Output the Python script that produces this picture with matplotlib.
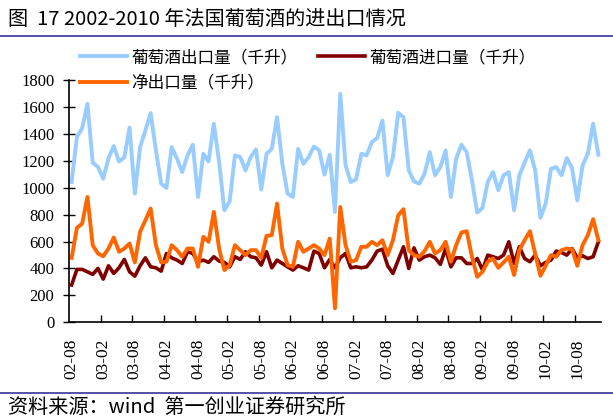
import numpy as np
import matplotlib
matplotlib.use('Agg')
import matplotlib.pyplot as plt
from matplotlib.lines import Line2D

plt.rcParams['font.family'] = ['Noto Sans CJK SC', 'DejaVu Sans']

# Monthly data, 2002-08 .. 2010-12 (千升)
exports = [1042, 1376, 1442, 1623, 1186, 1153, 1067, 1220, 1309, 1195,
           1225, 1445, 956, 1302, 1425, 1554, 1277, 1030, 998, 1302,
           1215, 1116, 1240, 1319, 931, 1252, 1195, 1475, 1190, 832,
           899, 1240, 1228, 1129, 1228, 1284, 986, 1252, 1289, 1524,
           1178, 956, 931, 1289, 1178, 1228, 1306, 1277, 1097, 1245,
           820, 1697, 1166, 1042, 1062, 1252, 1240, 1339, 1368, 1499,
           1092, 1228, 1556, 1524, 1129, 1047, 1030, 1104, 1264, 1092,
           1153, 1277, 931, 1215, 1319, 1264, 1055, 815, 850, 1042,
           1116, 981, 1092, 1116, 832, 1092, 1186, 1277, 1129, 776,
           882, 1141, 1153, 1092, 1220, 1146, 906, 1166, 1252, 1475,
           1245]
imports = [277, 393, 393, 375, 356, 400, 321, 420, 363, 405,
           467, 375, 343, 420, 479, 412, 405, 380, 511, 479,
           462, 437, 524, 511, 450, 462, 445, 487, 455, 445,
           412, 487, 467, 524, 487, 479, 425, 524, 405, 462,
           437, 412, 388, 420, 405, 388, 529, 511, 405, 467,
           405, 479, 511, 405, 412, 405, 412, 462, 529, 543,
           420, 363, 462, 561, 400, 553, 462, 487, 499, 479,
           430, 548, 412, 479, 479, 437, 437, 474, 388, 499,
           487, 474, 499, 598, 437, 561, 474, 450, 499, 420,
           445, 462, 529, 519, 499, 548, 479, 494, 474, 487,
           598]
net_exports = [479, 701, 733, 931, 573, 511, 491, 548, 630, 524,
               548, 585, 445, 672, 758, 845, 573, 445, 450, 573,
               536, 487, 548, 548, 412, 635, 598, 820, 548, 388,
               425, 573, 536, 499, 536, 536, 479, 642, 647, 882,
               548, 425, 412, 598, 524, 548, 573, 548, 499, 622,
               104, 857, 573, 450, 462, 561, 561, 598, 573, 610,
               499, 610, 795, 840, 536, 499, 487, 529, 598, 511,
               536, 598, 450, 573, 667, 677, 487, 338, 375, 450,
               474, 405, 445, 487, 351, 536, 610, 677, 511, 346,
               420, 499, 487, 536, 548, 543, 420, 573, 647, 766,
               610]
tick_labels = ['02-08', '03-02', '03-08', '04-02', '04-08', '05-02', '05-08',
               '06-02', '06-08', '07-02', '07-08', '08-02', '08-08', '09-02',
               '09-08', '10-02', '10-08']

W, H = 613, 420
fig = plt.figure(figsize=(W / 100, H / 100), dpi=100)
ax = fig.add_axes([69 / W, 1 - 322.3 / H, 532 / W, 242.3 / H])

x = np.arange(len(exports))
l_exp, = ax.plot(x, exports, color='#99CCFF', lw=2.8, label='葡萄酒出口量（千升）')
l_imp, = ax.plot(x, imports, color='#800000', lw=2.6, label='葡萄酒进口量（千升）')
l_net, = ax.plot(x, net_exports, color='#FF6600', lw=2.8, label='净出口量（千升）')

ax.set_xlim(-0.5, len(exports) - 0.5)
ax.set_ylim(0, 1800)
ax.set_yticks(np.arange(0, 1801, 200))
ax.set_yticklabels([str(v) for v in range(0, 1801, 200)],
                   fontfamily='Liberation Serif', fontsize=12)
ax.tick_params(axis='y', direction='inout', length=9, width=1, pad=6)

# ticks between categories, labels on category centres
ax.set_xticks(np.arange(5.5, len(exports), 6))
ax.set_xticklabels([])
ax.tick_params(axis='x', which='major', direction='in', length=5, width=1)
ax.set_xticks(np.arange(0, len(exports), 6)[:len(tick_labels)], minor=True)
ax.set_xticklabels(tick_labels, minor=True, rotation=90,
                   fontfamily='Liberation Serif', fontsize=12.5)
ax.tick_params(axis='x', which='minor', length=0, pad=12)

for s in ['top', 'right']:
    ax.spines[s].set_visible(False)
for s in ['left', 'bottom']:
    ax.spines[s].set_linewidth(1.2)

ax.legend(handles=[l_exp, l_net, l_imp], ncol=2, frameon=False,
          loc='upper left', bbox_to_anchor=(80 / W, 1 - 49 / H),
          bbox_transform=fig.transFigure, fontsize=12,
          handlelength=2.8, handletextpad=0.3, columnspacing=1.2,
          labelspacing=0.55, borderpad=0, borderaxespad=0)

fig.text(8 / W, 1 - 19 / H, '图  17 2002-2010 年法国葡萄酒的进出口情况',
         fontsize=14.5, va='center', ha='left')
fig.text(8 / W, 1 - 407 / H, '资料来源：wind  第一创业证券研究所',
         fontsize=14.5, va='center', ha='left')
fig.add_artist(Line2D([0, 1], [1 - 36 / H, 1 - 36 / H], color='#333399',
                      lw=1.2, transform=fig.transFigure))
fig.add_artist(Line2D([0, 1], [1 - 393 / H, 1 - 393 / H], color='#333399',
                      lw=1.2, transform=fig.transFigure))

fig.savefig('out.png', dpi=100)
